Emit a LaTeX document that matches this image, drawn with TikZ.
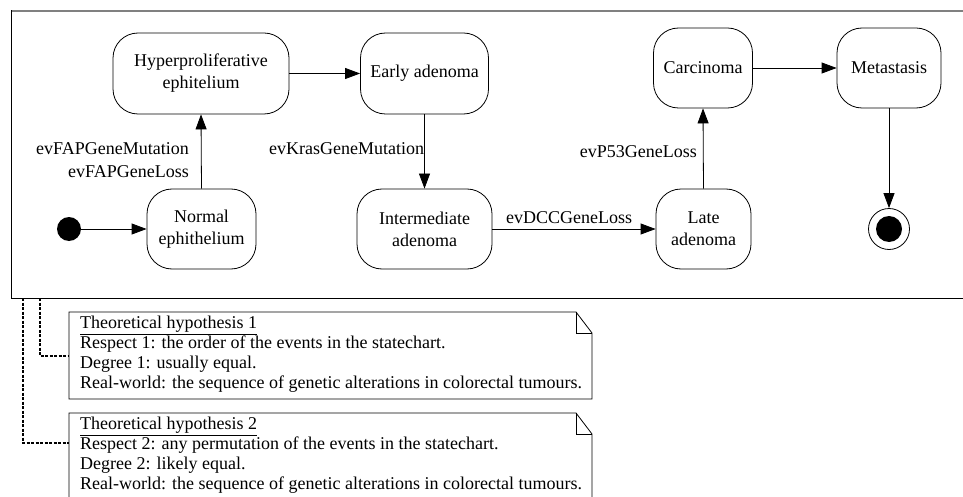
\documentclass[tikz,border=0pt]{standalone}
\usepackage{fontspec}
\setmainfont{Liberation Serif}
\usetikzlibrary{arrows.meta,calc}
\begin{document}
\begin{tikzpicture}[x=1pt,y=-1pt,
  state/.style={draw, line width=0.8pt, rounded corners=25pt, align=center, inner sep=0pt,
    font=\fontsize{18}{22}\selectfont},
  lbl/.style={inner sep=0pt, font=\fontsize{18}{22}\selectfont},
  tr/.style={draw, line width=0.8pt, -{Triangle[length=15pt,width=11pt]}},
  notetext/.style={inner sep=0pt, align=left, anchor=north west, font=\fontsize{18}{20}\selectfont},
  noteline/.style={draw, line width=0.8pt},
  anchorline/.style={draw, line width=1.1pt, dash pattern=on 3pt off 1.5pt}]
\clip (0,0) rectangle (963,497);
\useasboundingbox (0,0) rectangle (963,497);
\fill[white] (0,0) rectangle (963,497);

% frame
\draw[line width=1.3pt, gray] (11,11) -- (970,11);
\draw[line width=0.9pt] (11,10.5) -- (11,298) -- (970,298);
\coordinate (fa) at (40,298);
\coordinate (fb) at (23,298);

% states
\node[state, minimum width=176pt, minimum height=81pt] (hyper) at (201,73.5) {Hyperproliferative\\ephitelium};
\node[state, minimum width=128pt, minimum height=81pt] (early) at (424.5,73.5) {Early adenoma};
\node[state, minimum width=109pt, minimum height=80pt] (normal) at (201.5,229) {Normal\\ephithelium};
\node[state, minimum width=135pt, minimum height=80pt] (inter) at (424.5,229) {Intermediate\\adenoma};
\node[state, minimum width=95pt, minimum height=80pt] (late) at (703.5,229) {Late\\adenoma};
\node[state, minimum width=99pt, minimum height=80pt] (carc) at (703,68) {Carcinoma};
\node[state, minimum width=104pt, minimum height=80pt] (meta) at (889,68) {Metastasis};

% pseudo states
\node[circle, fill, inner sep=0pt, minimum size=24pt] (init) at (69,229) {};
\node[circle, draw, line width=0.8pt, inner sep=0pt, minimum size=41pt] (final) at (889,229) {};
\fill (final.center) circle (13pt);

% transitions
\draw[tr] (init) -- (normal.west);
\draw[tr] (normal.north) -- (hyper.south);
\draw[tr] (hyper.east) -- (early.west);
\draw[tr] (early.south) -- (inter.north);
\draw[tr] (inter.east) -- (late.west);
\draw[tr] (late.north) -- (carc.south);
\draw[tr] (carc.east) -- (meta.west);
\draw[tr] (meta.south) -- (final.north);

% labels
\node[lbl, anchor=east] (l1) at (189,149) {evFAPGeneMutation};
\node[lbl, anchor=east] (l2) at (189,172) {evFAPGeneLoss};
\node[lbl, anchor=west] (l3) at (269,149) {evKrasGeneMutation};
\node[lbl, anchor=east] (l4) at (697,152) {evP53GeneLoss};
\node[lbl, anchor=west] (l5) at (506,218) {evDCCGeneLoss};

% notes
\coordinate (n1a) at (69,312);
\coordinate (n1b) at (592,399);
\draw[noteline] (n1a) -- (576,312) -- (592,333) -- (n1b) -- (69,399) -- cycle;
\draw[noteline] (576,312) -- (576,333) -- (592,333);
\node[notetext] (t1) at (80,316) {\underline{Theoretical hypothesis 1}\\
Respect 1: the order of the events in the statechart.\\
Degree 1: usually equal.\\
Real-world: the sequence of genetic alterations in colorectal tumours.};

\coordinate (n2a) at (69,413);
\draw[noteline] (n2a) -- (576,413) -- (592,434) -- (592,498) -- (69,498) -- cycle;
\draw[noteline] (576,413) -- (576,434) -- (592,434);
\node[notetext] (t2) at (80,417) {\underline{Theoretical hypothesis 2}\\
Respect 2: any permutation of the events in the statechart.\\
Degree 2: likely equal.\\
Real-world: the sequence of genetic alterations in colorectal tumours.};

% anchors
\draw[anchorline] (fa) |- (69,356);
\draw[anchorline] (fb) |- (69,443);
\end{tikzpicture}
\end{document}
